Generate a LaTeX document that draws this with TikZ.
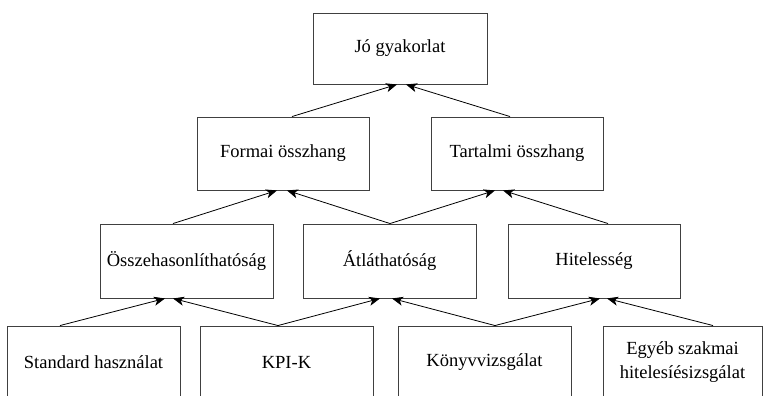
\documentclass[tikz,border=0pt]{standalone}
\usepackage{fontspec}
\setmainfont{Liberation Serif}
\usetikzlibrary{arrows.meta}
\begin{document}
\begin{tikzpicture}[x=1pt,y=-1pt,
  box/.style={draw=black!75, line width=0.9pt, fill=white, inner sep=2pt, align=center,
    font=\fontsize{18.5}{24}\selectfont, minimum width=173pt, minimum height=73pt},
  link/.style={draw=black, line width=0.8pt, -{Stealth[length=11pt,width=9pt,inset=3pt]}}]
\useasboundingbox (0,0) rectangle (764,396);
\clip (0,0) rectangle (764,396);
% row 1
\node[box, minimum width=174pt, minimum height=71pt] (jo) at (400,48.5) {Jó gyakorlat};
% row 2
\node[box, minimum width=172pt] (form) at (283,153.5) {Formai összhang};
\node[box, minimum width=172pt] (tart) at (517,153.5) {Tartalmi összhang};
% row 3
\node[box, minimum height=74pt] (ossz) at (186.5,261) {Összehasonlíthatóság};
\node[box, minimum height=74pt] (atl) at (389.5,261) {Átláthatóság};
\node[box, minimum width=172pt, minimum height=74pt] (hit) at (594,261) {Hitelesség};
% row 4
\node[box, minimum height=72pt] (std) at (93.5,362) {Standard használat};
\node[box, minimum height=72pt] (kpi) at (286.5,362) {KPI-K};
\node[box, minimum height=72pt] (konyv) at (484.5,362) {Könyvvizsgálat};
\node[box, minimum width=159pt, minimum height=72pt] (egyeb) at (682.5,362) {Egyéb szakmai\\hitelesíésizsgálat};
% connectors
\draw[link] ([xshift=9pt]form.north) -- ([xshift=-3pt]jo.south);
\draw[link] ([xshift=-7pt]tart.north) -- ([xshift=6pt]jo.south);
\draw[link] ([xshift=-13.5pt]ossz.north) -- ([xshift=-6pt]form.south);
\draw[link] ([xshift=0.5pt]atl.north) -- ([xshift=4pt]form.south);
\draw[link] ([xshift=0.5pt]atl.north) -- ([xshift=-22pt]tart.south);
\draw[link] ([xshift=14pt]hit.north) -- ([xshift=-14pt]tart.south);
\draw[link] ([xshift=-33.5pt]std.north) -- ([xshift=-21.5pt]ossz.south);
\draw[link] ([xshift=-8.5pt]kpi.north) -- ([xshift=-13.5pt]ossz.south);
\draw[link] ([xshift=-8.5pt]kpi.north) -- ([xshift=-9.5pt]atl.south);
\draw[link] ([xshift=10.5pt]konyv.north) -- ([xshift=2.5pt]atl.south);
\draw[link] ([xshift=10.5pt]konyv.north) -- ([xshift=6pt]hit.south);
\draw[link] ([xshift=30.5pt]egyeb.north) -- ([xshift=13pt]hit.south);
\end{tikzpicture}
\end{document}
